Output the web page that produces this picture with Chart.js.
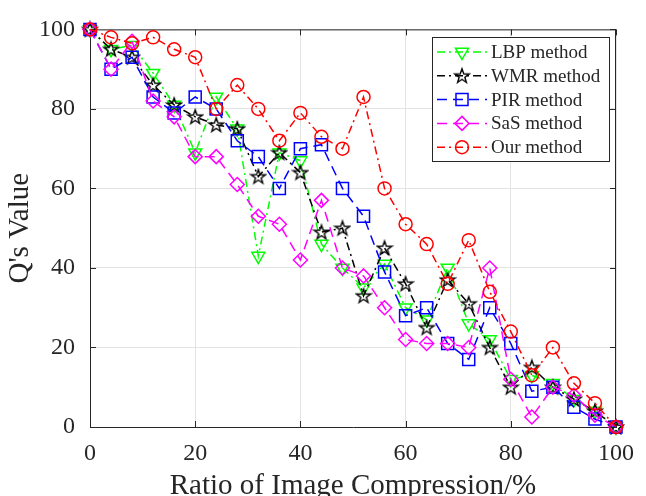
<!DOCTYPE html>
<html>
<head>
<meta charset="utf-8">
<script src="https://cdn.jsdelivr.net/npm/chart.js@4.4.1/dist/chart.umd.min.js"></script>
<style>
  html, body { margin: 0; padding: 0; background: #fff; }
  #wrap { width: 646px; height: 496px; }
</style>
</head>
<body>
<div id="wrap"><canvas id="chart" width="646" height="496"></canvas></div>
<script>
// compression ratio (%) at each sample
const ratios = [0, 4, 8, 12, 16, 20, 24, 28, 32, 36, 40, 44, 48, 52, 56, 60, 64, 68, 72, 76, 80, 84, 88, 92, 96, 100];

const lbpValues = [100, 95, 96, 89, 81, 69, 83, 75, 43, 69, 67, 46, 40, 35, 41, 30, 27, 40, 26, 22, 12, 13, 11, 7, 4, 0];
const wmrValues = [100, 95, 93, 86, 81, 78, 76, 75, 63, 69, 64, 49, 50, 33, 45, 36, 25, 37, 31, 20, 10, 15, 10, 7, 4, 0];
const pirValues = [100, 90, 93, 83, 79, 83, 80, 72, 68, 60, 70, 71, 60, 53, 39, 28, 30, 21, 17, 30, 21, 9, 10, 5, 2, 0];
const sasValues = [100, 90, 97, 82, 78, 68, 68, 61, 53, 51, 42, 57, 40, 38, 30, 22, 21, 21, 20, 40, 12, 2.5, 10, 8, 3, 0];
const ourValues = [100, 98, 96.5, 98, 95, 93, 80, 86, 80, 72, 79, 73, 70, 83, 60, 51, 46, 36, 47, 34, 24, 13, 20, 11, 6, 0];

const xTicks = [0, 20, 40, 60, 80, 100];
const yTicks = [0, 20, 40, 60, 80, 100];

const SERIF = '"Liberation Serif", "Times New Roman", serif';
const INK = '#262626';
const DASH_DOT = [8, 4, 2, 4];
const DASHED = [10, 6];

// MATLAB-like pentagram, drawn once into a small canvas
const makeStar = (color) => {
    const c = document.createElement('canvas');
    c.width = c.height = 18;
    const g = c.getContext('2d');
    g.strokeStyle = color;
    g.lineWidth = 1.4;
    g.beginPath();
    for (let i = 0; i < 10; i++) {
        const a = -Math.PI / 2 + i * Math.PI / 5;
        const r = i % 2 ? 3 : 7.5;
        const px = 9 + Math.cos(a) * r, py = 9.5 + Math.sin(a) * r;
        i ? g.lineTo(px, py) : g.moveTo(px, py);
    }
    g.closePath();
    g.stroke();
    return c;
};

const toPoints = vals => vals.map((v, i) => ({ x: ratios[i], y: v }));

const series = [
    { label: 'LBP method', data: lbpValues, color: '#00ff00', dash: DASH_DOT, style: 'triangle', radius: 7.5, rotation: 180, order: 4 },
    { label: 'WMR method', data: wmrValues, color: '#000000', dash: DASH_DOT, style: makeStar('#000000'), radius: 7, rotation: 0, order: 3 },
    { label: 'PIR method', data: pirValues, color: '#0000ff', dash: DASHED, style: 'rect', radius: 8.5, rotation: 0, order: 2 },
    { label: 'SaS method', data: sasValues, color: '#ff00ff', dash: DASHED, style: 'rectRot', radius: 7, rotation: 0, order: 1 },
    { label: 'Our method', data: ourValues, color: '#ff0000', dash: DASH_DOT, style: 'circle', radius: 6.5, rotation: 0, order: 0 }
];

// box around the axes with inward ticks on all four sides
const framePlugin = {
    id: 'frame',
    beforeDatasetsDraw(chart) {
        const { ctx, chartArea: { left, right, top, bottom }, scales: { x, y } } = chart;
        ctx.save();
        ctx.strokeStyle = INK;
        ctx.lineWidth = 1;
        ctx.beginPath();
        ctx.moveTo(left, top + 0.5); ctx.lineTo(right, top + 0.5);
        ctx.moveTo(right - 0.5, top); ctx.lineTo(right - 0.5, bottom);
        const len = 6;
        xTicks.forEach(v => {
            const px = Math.round(x.getPixelForValue(v)) + 0.5;
            ctx.moveTo(px, bottom); ctx.lineTo(px, bottom - len);
            ctx.moveTo(px, top); ctx.lineTo(px, top + len);
        });
        yTicks.forEach(v => {
            const py = Math.round(y.getPixelForValue(v)) + 0.5;
            ctx.moveTo(left, py); ctx.lineTo(left + len, py);
            ctx.moveTo(right, py); ctx.lineTo(right - len, py);
        });
        ctx.stroke();
        ctx.restore();
    }
};

const legendPlugin = {
    id: 'boxLegend',
    afterDraw(chart) {
        const { ctx } = chart;
        const bx = 432.5, by = 37.5, bw = 177, bh = 124;
        ctx.save();
        ctx.fillStyle = '#ffffff';
        ctx.fillRect(bx, by, bw, bh);
        ctx.strokeStyle = INK;
        ctx.lineWidth = 1;
        ctx.strokeRect(bx, by, bw, bh);
        ctx.font = '19px ' + SERIF;
        ctx.textBaseline = 'middle';
        series.forEach((s, i) => {
            const ry = 52 + i * 23.8;
            ctx.strokeStyle = s.color;
            ctx.lineWidth = 1.5;
            ctx.setLineDash(s.dash);
            ctx.beginPath();
            ctx.moveTo(437, ry); ctx.lineTo(487, ry);
            ctx.stroke();
            ctx.setLineDash([]);
            ctx.fillStyle = 'rgba(0,0,0,0)';
            Chart.helpers.drawPoint(ctx, {
                pointStyle: s.style, radius: s.radius, rotation: s.rotation, borderWidth: 1.5
            }, 462, ry);
            ctx.fillStyle = INK;
            ctx.fillText(s.label, 491, ry + 1);
        });
        ctx.restore();
    }
};

new Chart(document.getElementById('chart'), {
    type: 'line',
    data: {
        datasets: series.map(s => ({
            label: s.label,
            data: toPoints(s.data),
            borderColor: s.color,
            borderWidth: 1.5,
            borderDash: s.dash,
            backgroundColor: 'transparent',
            pointStyle: s.style,
            pointRadius: s.radius,
            pointRotation: s.rotation,
            pointBorderColor: s.color,
            pointBackgroundColor: 'transparent',
            pointBorderWidth: 1.5,
            tension: 0,
            clip: false,
            order: s.order
        }))
    },
    options: {
        responsive: false,
        animation: false,
        events: [],
        layout: { padding: { top: 22, right: 22, left: 0, bottom: 0 } },
        plugins: { legend: { display: false }, tooltip: { enabled: false } },
        scales: {
            x: {
                type: 'linear',
                min: 0, max: 100,
                afterFit: s => { s.height = 69; },
                afterBuildTicks: s => { s.ticks = xTicks.map(v => ({ value: v })); },
                grid: { color: '#e3e3e3', lineWidth: 1, drawTicks: false },
                border: { display: true, color: INK, width: 1 },
                ticks: { color: INK, padding: 12, maxRotation: 0, font: { family: SERIF, size: 24 } },
                title: {
                    display: true, text: 'Ratio of Image Compression/%', color: INK,
                    font: { family: SERIF, size: 29, lineHeight: '20px' }, padding: 0
                }
            },
            y: {
                type: 'linear',
                min: 0, max: 100,
                afterFit: s => { s.width = 90; },
                afterBuildTicks: s => { s.ticks = yTicks.map(v => ({ value: v })); },
                grid: { color: '#e3e3e3', lineWidth: 1, drawTicks: false },
                border: { display: true, color: INK, width: 1 },
                ticks: { color: INK, padding: 15, font: { family: SERIF, size: 24 } },
                title: {
                    display: true, text: "Q's Value", color: INK,
                    font: { family: SERIF, size: 29, lineHeight: '20px' }, padding: { top: 10, bottom: 0 }
                }
            }
        }
    },
    plugins: [framePlugin, legendPlugin]
});
</script>
</body>
</html>
